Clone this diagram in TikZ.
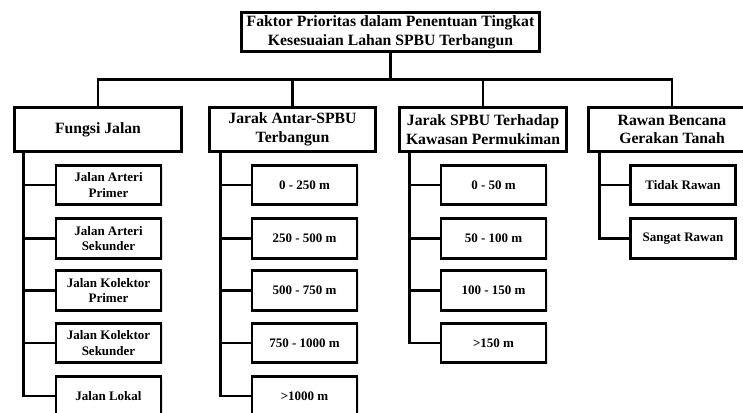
\documentclass[tikz,border=0pt]{standalone}
\usepackage{fontspec}
\setmainfont{Liberation Serif}
\usetikzlibrary{shadows}
\begin{document}
\begin{tikzpicture}[x=1pt,y=-1pt,
  box/.style={draw=black, line width=2.8pt, fill=white, align=center, inner sep=1pt,
    font=\bfseries\fontsize{15.7}{18.8}\selectfont,
    drop shadow={shadow xshift=1.6pt, shadow yshift=-1.6pt, fill=black!22}},
  topbox/.style={box, minimum width=298pt, minimum height=39.5pt},
  catbox/.style={box, minimum width=167pt, minimum height=44.5pt},
  subbox/.style={box, minimum width=105pt, minimum height=39.5pt,
    font=\bfseries\fontsize{13}{15.5}\selectfont},
  link/.style={draw=black, line width=2.8pt}]
\useasboundingbox (0,0) rectangle (743,412);
\clip (0,0) rectangle (743,412);
\fill[white] (0,0) rectangle (743,412);

\node[topbox] (top) at (390.5,32) {Faktor Prioritas dalam Penentuan Tingkat\\Kesesuaian Lahan SPBU Terbangun};

\node[catbox] (A) at (98,129.5) {Fungsi Jalan};
\node[catbox, minimum width=166pt] (B) at (292.5,129.5) {Jarak Antar-SPBU\\Terbangun};
\node[catbox] (C) at (483,129.5) {Jarak SPBU Terhadap\\Kawasan Permukiman};
\node[catbox] (D) at (672,129.5) {Rawan Bencana\\Gerakan Tanah};

\foreach \n in {A,B,C,D}{
  \draw[link] (top.south) -- ++(0,26) -| (\n.north);
}

% Fungsi Jalan children
\node[subbox] (A1) at (108.5,185) {Jalan Arteri\\Primer};
\node[subbox] (A2) at (108.5,238.5) {Jalan Arteri\\Sekunder};
\node[subbox] (A3) at (108.5,290.5) {Jalan Kolektor\\Primer};
\node[subbox] (A4) at (108.5,343) {Jalan Kolektor\\Sekunder};
\node[subbox] (A5) at (108.5,396) {Jalan Lokal};

% Jarak Antar-SPBU children
\node[subbox] (B1) at (304.5,185) {0 - 250 m};
\node[subbox] (B2) at (304.5,238.5) {250 - 500 m};
\node[subbox] (B3) at (304.5,290.5) {500 - 750 m};
\node[subbox] (B4) at (304.5,343) {750 - 1000 m};
\node[subbox] (B5) at (304.5,396) {>1000 m};

% Jarak SPBU Terhadap Permukiman children
\node[subbox] (C1) at (493.5,185) {0 - 50 m};
\node[subbox] (C2) at (493.5,238.5) {50 - 100 m};
\node[subbox] (C3) at (493.5,290.5) {100 - 150 m};
\node[subbox] (C4) at (493.5,343) {>150 m};

% Rawan Bencana children
\node[subbox] (D1) at (683,185) {Tidak Rawan};
\node[subbox] (D2) at (683,238.5) {Sangat Rawan};

\foreach \c in {A1,A2,A3,A4,A5}{
  \draw[link] ([xshift=10pt]A.south west) |- (\c.west);
}
\foreach \c in {B1,B2,B3,B4,B5}{
  \draw[link] ([xshift=12pt]B.south west) |- (\c.west);
}
\foreach \c in {C1,C2,C3,C4}{
  \draw[link] ([xshift=11pt]C.south west) |- (\c.west);
}
\foreach \c in {D1,D2}{
  \draw[link] ([xshift=12pt]D.south west) |- (\c.west);
}
\end{tikzpicture}
\end{document}
